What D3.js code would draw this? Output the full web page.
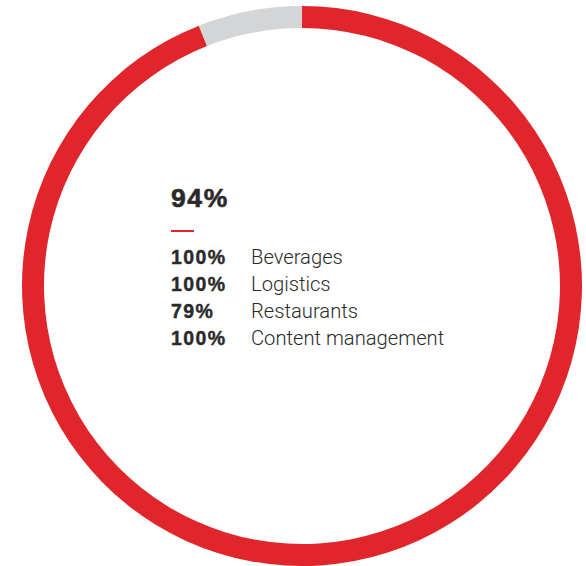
<!DOCTYPE html>
<html>
<head>
<meta charset="utf-8">
<script src="https://cdn.jsdelivr.net/npm/d3@7"></script>
<style>
  html, body { margin: 0; padding: 0; background: #fff; }
  svg { display: block; }
</style>
</head>
<body>
<svg id="chart" width="586" height="566"></svg>
<script>
// Overall share shown by the ring
const totalShare = 94;
const ringParts = ["covered", "remaining"];
const ringValues = [totalShare, 100 - totalShare];

// Breakdown by sector
const sectors = ["Beverages", "Logistics", "Restaurants", "Content management"];
const sectorValues = [100, 100, 79, 100];

const svg = d3.select("#chart");
const cx = 302, cy = 286;
const outerR = 280, innerR = 258;

const color = d3.scaleOrdinal().domain(ringParts).range(["#e0252b", "#d4d5d7"]);

const pie = d3.pie().sort(null).value(d => d.value);
const arc = d3.arc().innerRadius(innerR).outerRadius(outerR);

const ring = svg.append("g").attr("transform", `translate(${cx},${cy})`);
ring.selectAll("path")
  .data(pie(ringParts.map((p, i) => ({ part: p, value: ringValues[i] }))))
  .join("path")
  .attr("d", arc)
  .attr("fill", d => color(d.data.part));

// Headline figure
const textX = 171;
svg.append("text")
  .attr("x", textX).attr("y", 207)
  .attr("font-family", "'Liberation Sans', Arial, sans-serif")
  .attr("font-weight", 700)
  .attr("font-size", 26.5)
  .attr("letter-spacing", 1.6)
  .attr("stroke", "#2a2a2a").attr("stroke-width", 0.6)
  .attr("fill", "#2a2a2a")
  .text(totalShare + "%");

// Red divider
svg.append("line")
  .attr("x1", textX).attr("x2", textX + 23)
  .attr("y1", 231).attr("y2", 231)
  .attr("stroke", "#e0252b").attr("stroke-width", 2);

// Sector rows
const rowY = d3.scalePoint().domain(sectors).range([264, 345]);
const rows = svg.append("g").selectAll("g").data(sectors).join("g")
  .attr("transform", d => `translate(0,${rowY(d)})`);

rows.append("text")
  .attr("x", textX)
  .attr("font-family", "'Liberation Sans', Arial, sans-serif")
  .attr("font-weight", 700)
  .attr("font-size", 19.5)
  .attr("letter-spacing", 1.4)
  .attr("stroke", "#2a2a2a").attr("stroke-width", 0.4)
  .attr("fill", "#2a2a2a")
  .text((d, i) => sectorValues[i] + "%");

rows.append("text")
  .attr("x", 251)
  .attr("font-family", "Roboto, 'Liberation Sans', sans-serif")
  .attr("font-weight", 300)
  .attr("font-size", 20.2)
  .attr("fill", "#2a2a2a")
  .text(d => d);
</script>
</body>
</html>
